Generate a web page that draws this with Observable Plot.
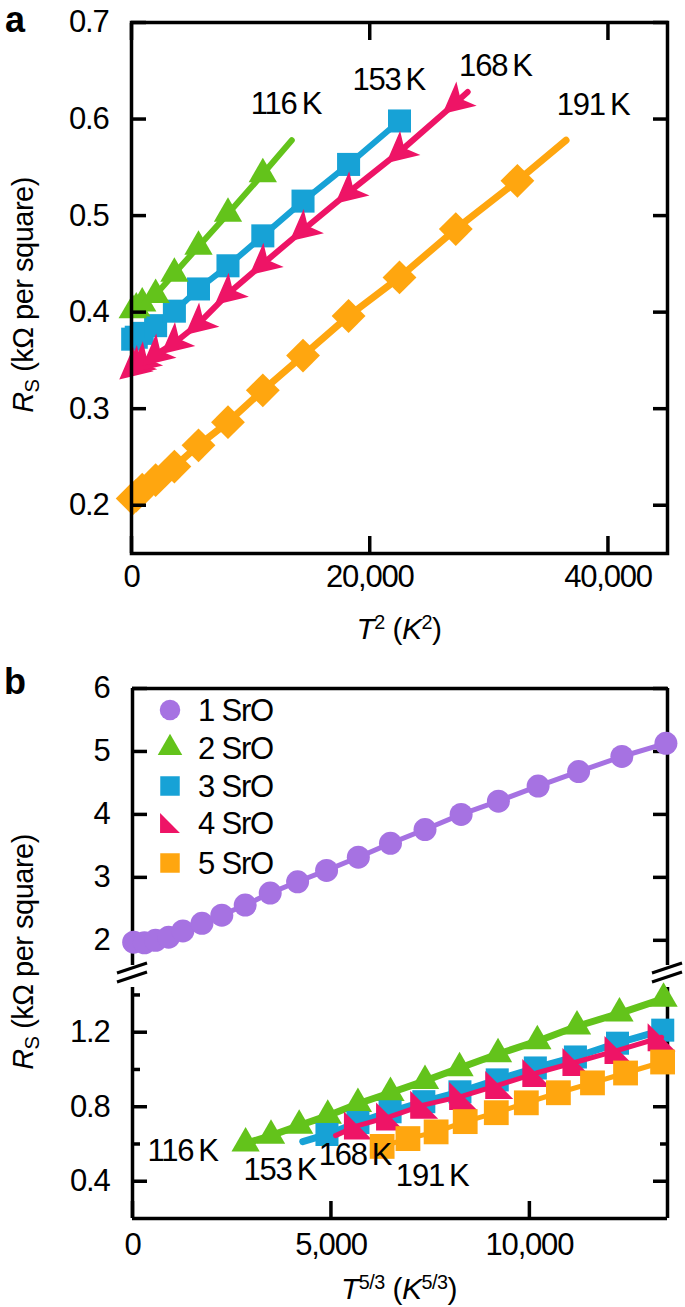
<!DOCTYPE html>
<html><head><meta charset="utf-8">
<script src="https://cdn.jsdelivr.net/npm/d3@7"></script>
<script src="https://cdn.jsdelivr.net/npm/@observablehq/plot@0.6"></script>
<style>
body{margin:0;background:#fff;font-family:"Liberation Sans",Arial,Helvetica,sans-serif;color:#000;}
#wrap{position:relative;width:685px;height:1307px;overflow:hidden;background:#fff;}
.abs{position:absolute;white-space:nowrap;line-height:1;}
.sup{font-size:0.66em;position:relative;top:-0.52em;}
.sub{font-size:0.7em;position:relative;top:0.3em;}
</style></head><body><div id="wrap"></div>
<script>
// ---------- colours ----------
const GREEN = "#63c31b", BLUE = "#17a2d6", PINK = "#ee1466", ORANGE = "#ffa60f", PURPLE = "#a672e2";
const FONT = '"Liberation Sans", Arial, Helvetica, sans-serif';
const FS = 31;          // font size of numbers and labels
const LS = "-1.2px";    // tight tracking, like the reference

// ---------- panel a data (x = T^2 in K^2, y = Rs in kOhm per square) ----------
const aXDomain = [0, 45000];
const aYDomain = [0.15, 0.7];
const aXTicks = [0, 20000, 40000];
const aYTicks = [0.2, 0.3, 0.4, 0.5, 0.6, 0.7];

const aGreenX = [100, 400, 900, 2025, 3600, 5625, 8100, 11025];
const aGreenY = [0.402, 0.404, 0.409, 0.418, 0.440, 0.468, 0.502, 0.543];
const aGreenFitEnd = [13456, 0.578];

const aBlueX = [100, 400, 900, 2025, 3600, 5625, 8100, 11025, 14400, 18225, 22500];
const aBlueY = [0.372, 0.374, 0.378, 0.386, 0.401, 0.424, 0.448, 0.479, 0.515, 0.553, 0.598];

const aPinkX = [100, 400, 900, 2025, 3600, 5625, 8100, 11025, 14400, 18225, 22500, 27225];
const aPinkY = [0.342, 0.344, 0.348, 0.356, 0.368, 0.388, 0.419, 0.450, 0.485, 0.524, 0.566, 0.617];
const aPinkFitEnd = [28224, 0.628];

const aOrangeX = [100, 400, 900, 2025, 3600, 5625, 8100, 11025, 14400, 18225, 22500, 27225, 32400];
const aOrangeY = [0.207, 0.210, 0.216, 0.226, 0.240, 0.262, 0.286, 0.319, 0.355, 0.396, 0.436, 0.486, 0.536];
const aOrangeFitEnd = [36481, 0.578];

const aLabels = ["116\u202FK", "153\u202FK", "168\u202FK", "191\u202FK"];
const aLabelX = [12970, 21600, 30550, 38750];
const aLabelY = [0.616, 0.640, 0.655, 0.614];

// ---------- panel b data (x = T^(5/3), y = Rs) ----------
const bXDomain = [0, 13480];
const bUpperYDomain = [1.6, 6];
const bLowerYDomain = [0.2, 1.44];
const bXTicks = [0, 5000, 10000];
const bUpperYTicks = [2, 3, 4, 5, 6];
const bLowerMajorTicks = [0.4, 0.8, 1.2];
const bLowerMinorTicks = [0.6, 1.0, 1.4];

const bPurpleX = [30, 300, 580, 910, 1270, 1750, 2250, 2840, 3470, 4160, 4890, 5690, 6500, 7370, 8280, 9220, 10220, 11240, 12330, 13440];
const bPurpleY = [1.97, 1.96, 2.00, 2.05, 2.15, 2.27, 2.40, 2.56, 2.75, 2.93, 3.11, 3.32, 3.54, 3.76, 4.00, 4.21, 4.45, 4.68, 4.92, 5.13];

const bGreenX = [2850, 3490, 4200, 4920, 5680, 6500, 7370, 8240, 9210, 10200, 11200, 12270, 13380];
const bGreenY = [0.603, 0.645, 0.699, 0.752, 0.816, 0.875, 0.939, 1.008, 1.083, 1.152, 1.232, 1.301, 1.380];

const bBlueStart = [4290, 0.613];
const bBlueX = [4900, 5680, 6490, 7340, 8250, 9190, 10150, 11160, 12220, 13360];
const bBlueY = [0.651, 0.715, 0.773, 0.827, 0.880, 0.944, 1.008, 1.067, 1.141, 1.211];

const bPinkStart = [5114, 0.645];
const bPinkX = [5680, 6490, 7350, 8330, 9240, 10175, 11186, 12246, 13332];
const bPinkY = [0.699, 0.747, 0.810, 0.858, 0.917, 0.981, 1.040, 1.104, 1.173];

const bOrangeX = [6290, 6940, 7650, 8383, 9166, 9923, 10731, 11590, 12423, 13357];
const bOrangeY = [0.587, 0.629, 0.665, 0.720, 0.768, 0.821, 0.875, 0.928, 0.981, 1.040];

const bLabels = ["116\u202FK", "153\u202FK", "168\u202FK", "191\u202FK"];
const bLabelX = [1262, 3712, 5606, 7550];
const bLabelY = [0.560, 0.459, 0.539, 0.427];

const legendNames = ["1 SrO", "2 SrO", "3 SrO", "4 SrO", "5 SrO"];
const legendColors = [PURPLE, GREEN, BLUE, PINK, ORANGE];

// ---------- helpers ----------
const pts = (xs, ys) => xs.map((x, i) => ({x, y: ys[i]}));
const withStart = (s, xs, ys) => [{x: s[0], y: s[1]}, ...pts(xs, ys)];
const withEnd = (xs, ys, e) => [...pts(xs, ys), {x: e[0], y: e[1]}];
const labelData = (t, xs, ys) => t.map((text, i) => ({text, x: xs[i], y: ys[i]}));
const plainFmt = d => String(d);
const commaFmt = d3.format(",");
const noFmt = () => "";

// custom symbols
const arrowSym = {draw(ctx, size) {
  const r = Math.sqrt(size / Math.PI), L = r * 1.35;
  ctx.moveTo(0, -L); ctx.lineTo(L * 0.9, L * 0.8); ctx.lineTo(0, L * 0.35); ctx.lineTo(-L * 0.9, L * 0.8); ctx.closePath();
}};
const rightTri = {draw(ctx, size) {
  const h = Math.sqrt(size / Math.PI);
  ctx.moveTo(-h, -h); ctx.lineTo(h, h); ctx.lineTo(-h, h); ctx.closePath();
}};

const baseStyle = {background: "transparent", overflow: "visible", fontFamily: FONT, fontSize: FS + "px", letterSpacing: LS, color: "black"};
const FW = 3.5;
const wrap = document.getElementById("wrap");
function place(el, top) { el.style.position = "absolute"; el.style.left = "0px"; el.style.top = top + "px"; wrap.appendChild(el); }
function html(h, left, top, extra = "") {
  const d = document.createElement("div"); d.className = "abs"; d.innerHTML = h;
  d.style.left = left + "px"; d.style.top = top + "px"; d.style.cssText += extra; wrap.appendChild(d); return d;
}

// ---------- panel a ----------
const aPlot = Plot.plot({
  width: 685, height: 600,
  marginLeft: 131, marginRight: 18, marginTop: 22, marginBottom: 47,
  x: {domain: aXDomain, label: null},
  y: {domain: aYDomain, label: null},
  style: baseStyle,
  marks: [
    Plot.line(withEnd(aOrangeX, aOrangeY, aOrangeFitEnd), {x: "x", y: "y", stroke: ORANGE, strokeWidth: 7}),
    Plot.dot(pts(aOrangeX, aOrangeY), {x: "x", y: "y", symbol: "square", rotate: 45, r: 13.5, fill: ORANGE}),
    Plot.line(pts(aBlueX, aBlueY), {x: "x", y: "y", stroke: BLUE, strokeWidth: 6}),
    Plot.dot(pts(aBlueX, aBlueY), {x: "x", y: "y", symbol: "square", r: 13, fill: BLUE}),
    Plot.line(withEnd(aPinkX, aPinkY, aPinkFitEnd), {x: "x", y: "y", stroke: PINK, strokeWidth: 6}),
    Plot.dot(pts(aPinkX, aPinkY), {x: "x", y: "y", symbol: arrowSym, rotate: 230, r: 13, fill: PINK}),
    Plot.line(withEnd(aGreenX, aGreenY, aGreenFitEnd), {x: "x", y: "y", stroke: GREEN, strokeWidth: 6}),
    Plot.dot(pts(aGreenX, aGreenY), {x: "x", y: "y", symbol: "triangle", r: 10.5, fill: GREEN}),
    Plot.text(labelData(aLabels, aLabelX, aLabelY), {x: "x", y: "y", text: "text", fontSize: FS, fill: "black", textAnchor: "middle"}),
    Plot.frame({stroke: "black", strokeWidth: FW}),
    Plot.axisY(aYTicks, {anchor: "left", tickSize: -15, tickPadding: 38, strokeWidth: FW, fontSize: FS, tickFormat: plainFmt, label: null}),
    Plot.axisY(aYTicks, {anchor: "right", tickSize: -15, tickFormat: noFmt, strokeWidth: FW, label: null}),
    Plot.axisX(aXTicks, {anchor: "bottom", tickSize: -17, tickPadding: 28, strokeWidth: FW, fontSize: FS, tickFormat: commaFmt, label: null}),
    Plot.axisX(aXTicks, {anchor: "top", tickSize: -17, tickFormat: noFmt, strokeWidth: FW, label: null})
  ]
});
place(aPlot, 0);

// ---------- panel b, upper part ----------
const bUp = Plot.plot({
  width: 685, height: 305,
  marginLeft: 132, marginRight: 18, marginTop: 28, marginBottom: 0,
  x: {domain: bXDomain, label: null, axis: null},
  y: {domain: bUpperYDomain, label: null},
  style: baseStyle,
  marks: [
    Plot.ruleX(bXDomain, {stroke: "black", strokeWidth: FW}),
    Plot.ruleY([bUpperYDomain[1]], {stroke: "black", strokeWidth: FW}),
    Plot.axisY(bUpperYTicks, {anchor: "left", tickSize: -15, tickPadding: 38, strokeWidth: FW, fontSize: FS, tickFormat: plainFmt, label: null}),
    Plot.axisY(bUpperYTicks, {anchor: "right", tickSize: -15, tickFormat: noFmt, strokeWidth: FW, label: null}),
    Plot.line(pts(bPurpleX, bPurpleY), {x: "x", y: "y", stroke: PURPLE, strokeWidth: 5}),
    Plot.dot(pts(bPurpleX, bPurpleY), {x: "x", y: "y", r: 11.5, fill: PURPLE})
  ]
});
place(bUp, 660);

// ---------- panel b, lower part ----------
const bLow = Plot.plot({
  width: 685, height: 290,
  marginLeft: 132, marginRight: 18, marginTop: 22, marginBottom: 37,
  x: {domain: bXDomain, label: null},
  y: {domain: bLowerYDomain, label: null},
  style: baseStyle,
  marks: [
    Plot.ruleX(bXDomain, {stroke: "black", strokeWidth: FW}),
    Plot.ruleY([bLowerYDomain[0]], {stroke: "black", strokeWidth: FW}),
    Plot.axisY(bLowerMajorTicks, {anchor: "left", tickSize: -15, tickPadding: 38, strokeWidth: FW, fontSize: FS, tickFormat: plainFmt, label: null}),
    Plot.axisY(bLowerMinorTicks, {anchor: "left", tickSize: -8, tickFormat: noFmt, strokeWidth: FW, label: null}),
    Plot.axisY(bLowerMajorTicks, {anchor: "right", tickSize: -15, tickFormat: noFmt, strokeWidth: FW, label: null}),
    Plot.axisY(bLowerMinorTicks, {anchor: "right", tickSize: -8, tickFormat: noFmt, strokeWidth: FW, label: null}),
    Plot.axisX(bXTicks, {anchor: "bottom", tickSize: -17, tickPadding: 31, strokeWidth: FW, fontSize: FS, tickFormat: commaFmt, label: null}),
    Plot.line(pts(bGreenX, bGreenY), {x: "x", y: "y", stroke: GREEN, strokeWidth: 7}),
    Plot.dot(pts(bGreenX, bGreenY), {x: "x", y: "y", symbol: "triangle", r: 10.5, fill: GREEN}),
    Plot.line(withStart(bBlueStart, bBlueX, bBlueY), {x: "x", y: "y", stroke: BLUE, strokeWidth: 7}),
    Plot.dot(pts(bBlueX, bBlueY), {x: "x", y: "y", symbol: "square", r: 13, fill: BLUE}),
    Plot.line(withStart(bPinkStart, bPinkX, bPinkY), {x: "x", y: "y", stroke: PINK, strokeWidth: 5}),
    Plot.dot(pts(bPinkX, bPinkY), {x: "x", y: "y", symbol: rightTri, r: 14, fill: PINK}),
    Plot.line(pts(bOrangeX, bOrangeY), {x: "x", y: "y", stroke: ORANGE, strokeWidth: 5}),
    Plot.dot(pts(bOrangeX, bOrangeY), {x: "x", y: "y", symbol: "square", r: 14, fill: ORANGE}),
    Plot.text(labelData(bLabels, bLabelX, bLabelY), {x: "x", y: "y", text: "text", fontSize: FS, fill: "black", textAnchor: "middle"})
  ]
});
place(bLow, 965);

// axis-break marks drawn at the positions of the x-domain ends
{
  const sx = bLow.scale("x");
  const svg = d3.select(bLow);
  bXDomain.forEach(v => {
    const px = sx.apply(v);
    [3, 12].forEach(c => {
      svg.append("line").attr("x1", px - 15).attr("y1", c + 5).attr("x2", px + 15).attr("y2", c - 5)
        .attr("stroke", "black").attr("stroke-width", 3);
    });
  });
}

// ---------- text outside the SVGs ----------
html("a", 5, 2, "font-size:36px;font-weight:bold;");
html("b", 4, 664, "font-size:36px;font-weight:bold;");
const yTitle = '<span style="font-style:italic">R</span><span class="sub">S</span> (k\u03A9 per square)';
html(yTitle, 23, 295, "font-size:29px;letter-spacing:-0.5px;transform:translate(-50%,-50%) rotate(-90deg);");
html(yTitle, 23, 952, "font-size:29px;letter-spacing:-0.5px;transform:translate(-50%,-50%) rotate(-90deg);");
html('<i>T</i><span class="sup">2</span> (<i>K</i><span class="sup">2</span>)', 399, 614, "font-size:30px;letter-spacing:-0.5px;transform:translateX(-50%);");
html('<i>T</i><span class="sup">5/3</span> (<i>K</i><span class="sup">5/3</span>)', 399, 1274, "font-size:30px;letter-spacing:-0.5px;transform:translateX(-50%);");

// legend
const legendRowY = [710, 748, 786, 823, 863];
const legendSym = [d3.symbolCircle, d3.symbolTriangle, d3.symbolSquare, rightTri, d3.symbolSquare];
const legendSize = [330, 260, 380, 310, 380];
legendNames.forEach((name, i) => {
  const s = d3.create("svg").attr("width", 30).attr("height", 30)
    .style("position", "absolute").style("left", "155px").style("top", (legendRowY[i] - 15) + "px");
  s.append("path").attr("transform", "translate(15,15)")
    .attr("d", d3.symbol(legendSym[i], legendSize[i])()).attr("fill", legendColors[i]);
  wrap.appendChild(s.node());
  html(name, 198, legendRowY[i] - 15, "font-size:" + FS + "px;letter-spacing:" + LS + ";");
});
</script></body></html>
